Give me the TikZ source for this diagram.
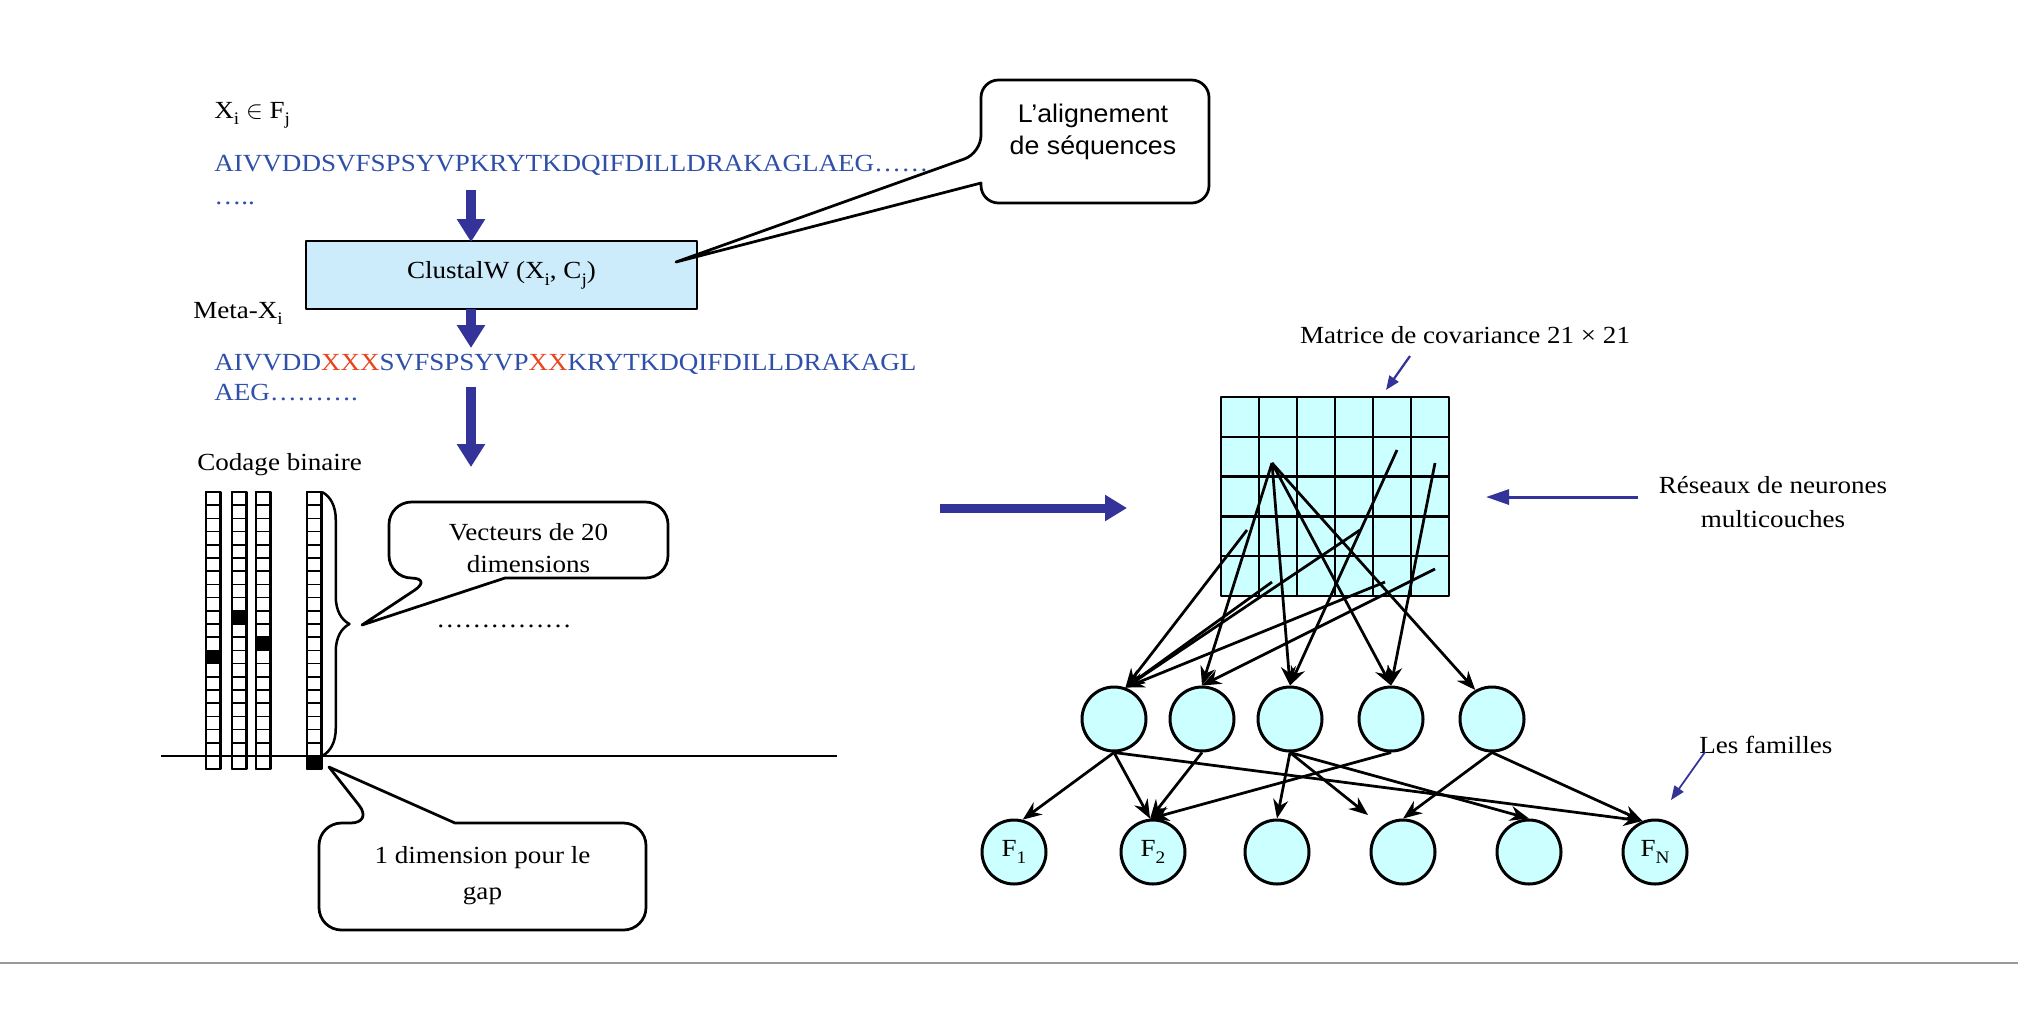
\documentclass[tikz,border=0pt]{standalone}
\usepackage{fontspec}
\setmainfont[FakeStretch=1.1]{Liberation Serif}
\newfontfamily\bubblefont[FakeStretch=1.05]{Liberation Sans}
\usetikzlibrary{arrows.meta,decorations.pathreplacing}
\definecolor{seqblue}{HTML}{2F4FA8}
\definecolor{gapred}{HTML}{E8451E}
\definecolor{arrowblue}{HTML}{333399}
\definecolor{boxblue}{HTML}{CCEBFB}
\definecolor{netcyan}{HTML}{CCFFFF}
\newcommand{\sub}[1]{\raisebox{-0.28em}{\fontsize{10}{10}\selectfont #1}}
\begin{document}
\begin{tikzpicture}[x=0.02cm, y=-0.02cm, font=\fontsize{14}{18}\selectfont, line join=round, >=Stealth]
	\tikzset{
	lbl/.style={inner sep=0pt, anchor=base west},
	bigarrow/.style={arrowblue, line width=0.19cm, -{Triangle[length=0.46cm,width=0.54cm]}},
	midarrow/.style={arrowblue, line width=0.06cm, -{Triangle[length=0.46cm,width=0.3cm]}},
	thinarrow/.style={arrowblue, line width=0.045cm, -{Triangle[length=0.28cm,width=0.22cm]}},
	bubble/.style={draw=black, line width=0.055cm, fill=white},
	cell/.style={draw=black, line width=0.035cm, fill=white},
	neuron/.style={circle, draw=black, line width=0.06cm, fill=netcyan, minimum size=1.28cm, inner sep=0pt},
	link/.style={black, line width=0.055cm, -{Stealth[length=0.38cm,width=0.3cm]}},
	}
	\useasboundingbox (0,0) rectangle (2018,1019);
	\node[lbl] (xif) at (214,118) {X\sub{i} $\in$ F\sub{j}};
	\node[lbl, seqblue] (seqa) at (214,171) {AIVVDDSVFSPSYVPKRYTKDQIFDILLDRAKAGLAEG……};
	\node[lbl, seqblue] (dotsa) at (214,204) {…..};
	\node[draw=black, line width=0.055cm, fill=boxblue, minimum width=7.82cm, minimum height=1.36cm] (clustal) at (501.5,275) {ClustalW (X\sub{i}, C\sub{j})};
	\node[lbl] (meta) at (193,318) {Meta-X\sub{i}};
	\node[lbl, seqblue] (seqb) at (214,370) {AIVVDD\textcolor{gapred}{XXX}SVFSPSYVP\textcolor{gapred}{XX}KRYTKDQIFDILLDRAKAGL};
	\node[lbl, seqblue] (seqc) at (214,400) {AEG……….};
	\node[lbl] (codage) at (197,470) {Codage binaire};
	\node[lbl] (dotsb) at (436,627) {……………};
	\coordinate (a1s) at (471,190);
	\coordinate (a1e) at (471,242);
	\coordinate (a2s) at (471,309);
	\coordinate (a2e) at (471,348);
	\coordinate (a3s) at (471,387);
	\coordinate (a3e) at (471,467);
	\draw[bigarrow] (a1s) -- (a1e);
	\draw[bigarrow] (a2s) -- (a2e);
	\draw[bigarrow] (a3s) -- (a3e);
	\coordinate (tipalign) at (676,262);
	\draw[bubble] (981,183) [rounded corners=0.35cm] -- (981,203) -- (1209,203) -- (1209,80) -- (981,80) -- (981,153) [sharp corners] -- (tipalign) -- cycle;
	\node[anchor=base, align=center, inner sep=0pt, font=\bubblefont\fontsize{14.5}{18.1}\selectfont] (align) at (1093,154) {L’alignement\\de séquences};
	\foreach \cx/\dark in {206/12, 232/9, 256/11, 307/20}{
	\foreach \r in {0,...,20}{
	\draw[cell] (\cx,492+\r*13.2) rectangle ++(14.5,13.2);
	}
	\fill[black] (\cx,492+\dark*13.2) rectangle ++(14.5,13.2);
	\draw[line width=0.05cm] (\cx,492) rectangle ++(14.5,277.2);
	}
	\draw[line width=0.05cm] (161,756) -- (837,756);
	\draw[decorate, decoration={brace, amplitude=0.55cm}, line width=0.05cm] (322,492) -- (322,756);
	\coordinate (tipvec) at (362,625);
	\draw[bubble] (505,578) [rounded corners=0.45cm] -- (668,578) -- (668,502) -- (389,502) -- (389,578) -- (433,578) [sharp corners] -- (tipvec) -- cycle;
	\node[anchor=base, align=center, inner sep=0pt, font=\fontsize{14}{18.1}\selectfont] (vect) at (528.5,572) {Vecteurs de 20\\dimensions};
	\coordinate (tipgap) at (329,767);
	\draw[bubble] (455,823) [rounded corners=0.45cm] -- (646,823) -- (646,930) -- (319,930) -- (319,823) -- (373,823) [sharp corners] -- (tipgap) -- cycle;
	\node[anchor=base, align=center, inner sep=0pt, font=\fontsize{14}{20}\selectfont] (gap) at (482.5,899) {1 dimension pour le\\gap};
	\coordinate (bas) at (940,508);
	\coordinate (bae) at (1127,508);
	\draw[arrowblue, line width=0.18cm, -{Triangle[length=0.44cm,width=0.5cm]}] (bas) -- (bae);
	\fill[netcyan] (1221,397) rectangle (1449,596);
	\foreach \gx in {1,...,5}{
	\draw[line width=0.045cm] (1221+\gx*38,397) -- ++(0,199);
	}
	\foreach \gy in {1,...,4}{
	\draw[line width=0.045cm] (1221,397+\gy*39.8) -- ++(228,0);
	}
	\draw[line width=0.055cm] (1221,397) rectangle (1449,596);
	\node[anchor=base, inner sep=0pt] (matrice) at (1465,343) {Matrice de covariance 21 × 21};
	\coordinate (mas) at (1410,356);
	\coordinate (mae) at (1386,390);
	\draw[thinarrow] (mas) -- (mae);
	\node[anchor=base, align=center, inner sep=0pt, font=\fontsize{14}{19.3}\selectfont] (reseaux) at (1773,527) {Réseaux de neurones\\multicouches};
	\coordinate (ras) at (1638,497);
	\coordinate (rae) at (1486,497);
	\draw[midarrow] (ras) -- (rae);
	\coordinate (p1) at (1272,463);
	\coordinate (pa) at (1247,530);
	\coordinate (pb) at (1272,582);
	\coordinate (pc) at (1360,530);
	\coordinate (pd) at (1385,582);
	\coordinate (pe) at (1435,569);
	\coordinate (pf) at (1397,450);
	\coordinate (pg) at (1435,463);
	\foreach \i/\hx in {1/1114, 2/1202, 3/1290, 4/1391, 5/1492}{
	\node[neuron] (h\i) at (\hx,719) {};
	}
	\foreach \i/\ox/\txt in {1/1014/F\sub{1}, 2/1153/F\sub{2}, 3/1277/, 4/1403/, 5/1529/, 6/1655/F\sub{N}}{
	\node[neuron] (o\i) at (\ox,852) {\txt};
	}
	\foreach \s/\t in {p1/h2.north, p1/h3.north, p1/h4.north, p1/h5.120, pa/h1.70, pb/h1.70, pc/h1.70, pd/h1.70, pe/h2.north, pf/h3.north, pg/h4.north}{
	\draw[link] (\s) -- (\t);
	}
	\foreach \s/\t in {h1/o1.75, h1/o2.95, h1/o6.112, h2/o2.95, h3/o3.north, h3/o5.north, h4/o2.95, h5/o4.north, h5/o6.112}{
	\draw[link] (\s.south) -- (\t);
	}
	\coordinate (o4miss) at (1368,815);
	\draw[link] (h3.south) -- (o4miss);
	\node[lbl] (familles) at (1699,753) {Les familles};
	\coordinate (fas) at (1705,752);
	\coordinate (fae) at (1671,800);
	\draw[thinarrow, line width=0.035cm] (fas) -- (fae);
	\draw[black!40, line width=0.04cm] (0,963) -- (2018,963);
\end{tikzpicture}
\end{document}
